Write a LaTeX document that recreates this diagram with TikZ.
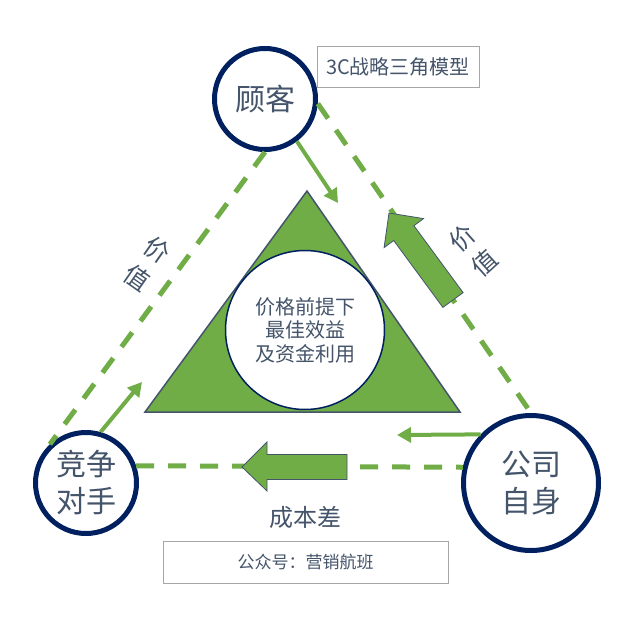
\documentclass[tikz,border=0pt]{standalone}
\usepackage{fontspec}
\setmainfont{Noto Sans CJK SC}
\usetikzlibrary{arrows.meta}
\definecolor{grn}{HTML}{70AD47}
\definecolor{navy}{HTML}{002060}
\definecolor{slate}{HTML}{44546A}
\definecolor{boxgray}{HTML}{A6A6A6}
\begin{document}
\begin{tikzpicture}[x=1pt,y=-1pt,
  party/.style={circle,draw=navy,line width=5pt,fill=white,text=slate,align=center,inner sep=0pt},
  dashlink/.style={draw=grn,line width=5pt,dash pattern=on 18pt off 14pt},
  thinarrow/.style={draw=grn,line width=4pt,-{Triangle[length=14pt,width=15pt]}},
  bigarrow/.style={fill=grn,draw=slate,line width=0.8pt,line join=miter},
  lbl/.style={text=slate,align=center,inner sep=0pt},
  tagbox/.style={draw=boxgray,line width=1pt,text=slate,inner sep=0pt}
]
\useasboundingbox[fill=white] (0,0) rectangle (632,621);

% central triangle and circle
\draw[fill=grn,draw=slate,line width=1.5pt,line join=miter] (307,191) -- (145,412) -- (460,412) -- cycle;
\node[circle,draw=navy,line width=1.5pt,fill=white,minimum size=159pt,inner sep=0pt,text=slate,align=center,
  font=\fontsize{20}{23.5}\selectfont] (core) at (305,330) {价格前提下\\最佳效益\\及资金利用};

% parties
\node[party,minimum size=101pt,font=\fontsize{30}{36}\selectfont] (gk) at (265,99) {顾客};
\node[party,minimum size=101pt,font=\fontsize{30}{37}\selectfont] (jz) at (86,483) {竞争\\对手};
\node[party,minimum size=135pt,font=\fontsize{30}{37}\selectfont] (gs) at (531,483) {公司\\自身};

% dashed links
\draw[dashlink] (gk.south) -- (jz.133);
\draw[dashlink] (gk.-5) -- (gs.north);
\draw[dashlink] (jz.19) -- (gs.167);

% big arrows
\draw[bigarrow] (242,467) -- (267,442) -- (267,454.5) -- (347,454.5) -- (347,479.5) -- (267,479.5) -- (267,491) -- cycle;
\draw[bigarrow] (389,213) -- (384.1,247.6) -- (393.7,240.5) -- (442.9,307.4) -- (463.1,292.6) -- (413.9,225.7) -- (423.5,218.6) -- cycle;

% thin arrows
\coordinate (t1) at (338,203);
\coordinate (t2) at (142,382);
\coordinate (t3) at (397,435);
\draw[thinarrow] (gk.-53) -- (t1);
\draw[thinarrow] (jz.74) -- (t2);
\draw[thinarrow] (gs.136) -- (t3);

% labels
\node[lbl,rotate=-35,font=\fontsize{25}{34}\selectfont] (vl) at (147,264) {价\\值};
\node[lbl,rotate=42,font=\fontsize{25}{34}\selectfont] (vr) at (473.5,250.5) {价\\值};
\node[lbl,font=\fontsize{24}{28}\selectfont] (cb) at (305,517) {成本差};

% tag boxes
\node[tagbox,minimum width=162pt,minimum height=41pt,font=\fontsize{20}{24}\selectfont] (title) at (398,66.5) {3C战略三角模型};
\node[tagbox,minimum width=285pt,minimum height=42pt,font=\fontsize{17}{20}\selectfont] (src) at (305.5,562) {公众号：营销航班};
\end{tikzpicture}
\end{document}
